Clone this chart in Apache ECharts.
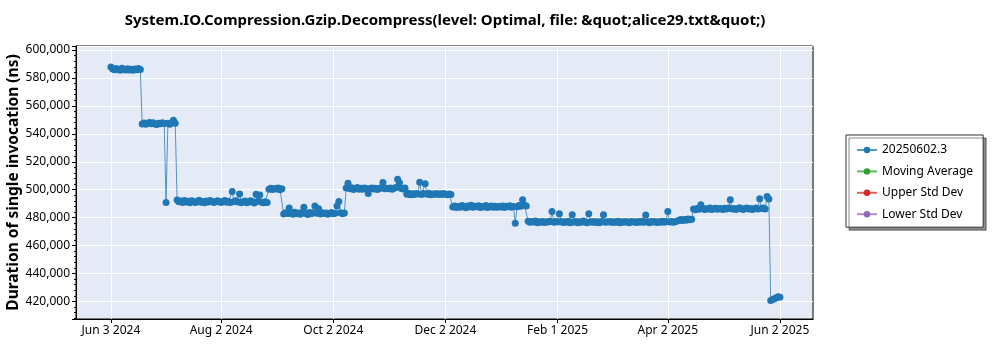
<!DOCTYPE html>
<html>
<head>
<meta charset="utf-8">
<script src="https://cdn.jsdelivr.net/npm/echarts@6/dist/echarts.min.js"></script>
<style>
  html, body { margin: 0; padding: 0; background: #ffffff; }
  #chart { width: 1000px; height: 350px; }
</style>
</head>
<body>
<div id="chart"></div>
<script>
// One benchmark run per day, starting on this date (UTC)
const firstRunDate = '2024-06-03';

// Duration of a single invocation per daily run, in nanoseconds (one row per month)
const durations = [
  /* Jun 3-30 */ 587800,586500,585900,586800,586100,585600,586900,586300,585800,586600,585700,586200,585500,586400,585900,586700,586000,
                 547000,547800,546900,547500,548200,547300,547900,547100,546700,547600,547200,
  /* Jul */      548000,547400,490800,547600,546900,547800,549800,547500,
                 492600,491400,491900,490800,492200,491100,491700,490600,492000,491300,490900,491800,492400,491000,491600,490700,
                 491900,491200,492300,491500,490800,491400,492000,
  /* Aug */      491300,490900,491800,492200,491000,491600,490800,498700,491500,492100,491200,497000,490700,491400,491900,490600,
                 491300,492000,491100,490500,496800,491700,496200,491000,490600,491400,490900,
                 500400,501100,500200,500800,
  /* Sep */      500500,501300,500000,500700,
                 482600,483500,482900,486800,483200,482400,483800,482700,483300,482500,483600,487500,483000,482300,483700,482800,
                 483400,488400,483100,486300,482600,483500,482900,483300,482400,483000,
  /* Oct */      483600,482700,483200,488300,491500,483400,482800,483300,
                 501200,504700,500600,501400,500200,500900,501500,500400,501000,500300,501200,500600,497200,500800,501300,500500,
                 501100,500200,500900,501400,505100,500700,501000,
  /* Nov */      500600,501300,500400,501000,501600,507500,505000,500900,500500,501200,
                 496800,497500,496400,497100,496600,497300,496900,505400,496500,497200,504300,496800,497400,496300,497000,496700,
                 497300,496500,497100,496600,
  /* Dec */      497200,496800,496400,497000,496500,
                 487600,488300,487200,488000,487500,488600,487800,487100,488400,487600,488900,487400,488100,487700,488500,487300,
                 488000,487600,488700,487200,487900,488300,487500,488100,487400,488000,
  /* Jan */      487600,488400,487300,488100,487700,488500,487400,488000,476000,487800,488600,488200,492800,488900,488300,
                 477400,476600,477200,476800,477500,476400,477000,476700,477300,476500,477100,476800,477400,484300,476600,477200,
  /* Feb */      476900,482700,477300,476500,477000,476700,477400,476300,482100,476800,477200,476400,477100,476600,477500,476900,
                 476300,482800,477000,476600,477300,476500,477100,476400,477200,482100,476700,477000,
  /* Mar */      476800,477300,476500,477100,476700,477400,476300,477000,476600,477200,476900,476400,477300,476800,477100,476500,
                 477200,476700,477400,476600,481900,477000,476400,477200,476800,477300,476500,477100,476700,477400,476600,
  /* Apr */      477200,484300,476800,477300,476600,477100,477500,478000,478600,477900,478700,478200,479000,478400,478900,
                 486200,485700,486500,486000,489200,486600,485900,486400,486100,486800,485800,486300,486700,486000,486500,
  /* May */      486400,485900,486700,486200,486800,492800,486100,486600,485800,486400,487000,486300,485900,486500,486900,486200,
                 486600,485800,486400,486900,486100,493500,486500,486800,486200,495200,493300,
                 420700,421300,421900,422600,
  /* Jun 1-2 */  423300,422900
];

// Companion statistics series (no points recorded for this run)
const movingAverage = [];
const upperStdDev = [];
const lowerStdDev = [];

const seriesNames = ['20250602.3', 'Moving Average', 'Upper Std Dev', 'Lower Std Dev'];
const seriesColors = ['#1f77b4', '#2ca02c', '#d62728', '#9467bd'];

const xTickLabels = ['Jun 3 2024', 'Aug 2 2024', 'Oct 2 2024', 'Dec 2 2024', 'Feb 1 2025', 'Apr 2 2025', 'Jun 2 2025'];
const xRange = ['2024-05-15', '2025-06-20'];
const yRange = [407400, 602900];

const MONTHS = ['Jan','Feb','Mar','Apr','May','Jun','Jul','Aug','Sep','Oct','Nov','Dec'];
const DAY_MS = 86400000;

function isoToTime(s) {
  const p = s.split('-').map(Number);
  return Date.UTC(p[0], p[1] - 1, p[2]);
}
function labelToTime(s) {
  const p = s.split(' ');
  return Date.UTC(+p[2], MONTHS.indexOf(p[0]), +p[1]);
}

const tickTimes = xTickLabels.map(labelToTime);
const startTime = isoToTime(firstRunDate);
const points = durations.map((v, i) => [startTime + i * DAY_MS, v]);

const FONT = '"Noto Sans", "Open Sans", sans-serif';

const chart = echarts.init(document.getElementById('chart'), null, { renderer: 'canvas' });

function lineSeries(name, color, data) {
  return {
    name: name,
    type: 'line',
    data: data,
    symbol: 'circle',
    symbolSize: 7,
    showSymbol: true,
    lineStyle: { color: color, width: 1, opacity: 0.75 },
    itemStyle: { color: color },
    emphasis: { disabled: true },
    animation: false
  };
}

chart.setOption({
  animation: false,
  backgroundColor: '#ffffff',
  title: {
    text: 'System.IO.Compression.Gzip.Decompress(level: Optimal, file: &quot;alice29.txt&quot;)',
    left: 440,
    top: 8,
    textAlign: 'center',
    textStyle: { fontFamily: FONT, fontSize: 15, fontWeight: 'bold', color: '#000000' }
  },
  grid: {
    left: 76, right: 187, top: 46, bottom: 31,
    outerBoundsMode: 'none',
    containLabel: false,
    show: true,
    backgroundColor: '#e5ebf6',
    borderColor: '#000000',
    borderWidth: 1
  },
  legend: {
    orient: 'vertical',
    left: 846,
    top: 135,
    data: seriesNames,
    itemWidth: 20,
    itemHeight: 8,
    itemGap: 9.4,
    padding: [9, 10, 7, 10],
    backgroundColor: '#ffffff',
    borderColor: '#333333',
    borderWidth: 1,
    shadowColor: 'rgba(0,0,0,0.45)',
    shadowBlur: 0,
    shadowOffsetX: 3,
    shadowOffsetY: 3,
    textStyle: { fontFamily: FONT, fontSize: 12, color: '#000000' }
  },
  xAxis: {
    type: 'value',
    min: isoToTime(xRange[0]),
    max: isoToTime(xRange[1]),
    axisLine: { show: true, lineStyle: { color: '#000000', width: 1 } },
    axisTick: { show: true, customValues: tickTimes, length: 4, lineStyle: { color: '#000000' } },
    axisLabel: {
      customValues: tickTimes,
      fontFamily: FONT, fontSize: 12, color: '#000000', margin: 6,
      formatter: function (v) {
        const i = tickTimes.indexOf(v);
        return i >= 0 ? xTickLabels[i] : '';
      }
    },
    splitLine: { show: true, lineStyle: { color: '#ffffff', width: 1 } }
  },
  yAxis: {
    type: 'value',
    min: yRange[0],
    max: yRange[1],
    splitNumber: 10,
    name: 'Duration of single invocation (ns)',
    nameLocation: 'middle',
    nameGap: 54,
    nameRotate: 90,
    nameMoveOverlap: false,
    nameTextStyle: { fontFamily: FONT, fontSize: 15.5, fontWeight: 'bold', color: '#000000' },
    axisLine: { show: true, lineStyle: { color: '#000000', width: 1 } },
    axisTick: { show: true, length: 4, lineStyle: { color: '#000000' } },
    minorTick: { show: true, splitNumber: 5, length: 2, lineStyle: { color: '#000000' } },
    axisLabel: {
      fontFamily: FONT, fontSize: 12, color: '#000000', margin: 6,
      showMinLabel: false, showMaxLabel: false,
      formatter: function (v) { return v.toLocaleString('en-US'); }
    },
    splitLine: { show: true, lineStyle: { color: '#ffffff', width: 1 } }
  },
  series: [
    lineSeries(seriesNames[0], seriesColors[0], points),
    lineSeries(seriesNames[1], seriesColors[1], movingAverage),
    lineSeries(seriesNames[2], seriesColors[2], upperStdDev),
    lineSeries(seriesNames[3], seriesColors[3], lowerStdDev)
  ]
});
</script>
</body>
</html>
